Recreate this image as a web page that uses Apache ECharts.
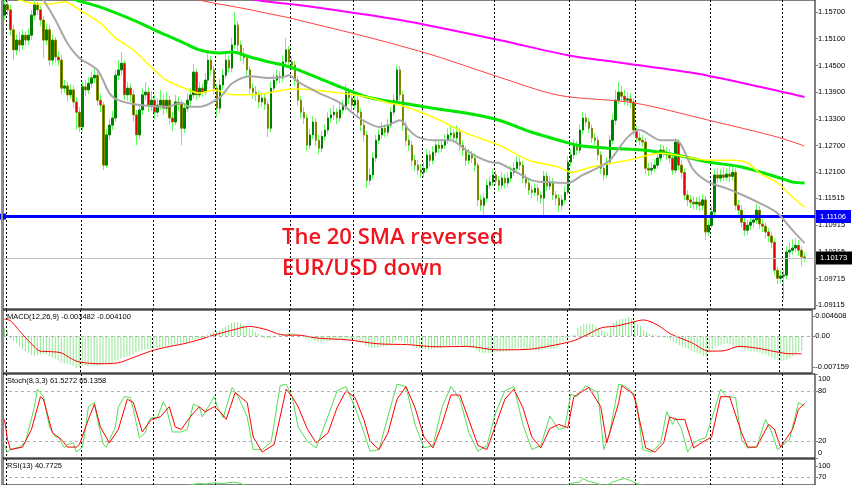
<!DOCTYPE html>
<html><head><meta charset="utf-8">
<script src="https://cdn.jsdelivr.net/npm/echarts@6/dist/echarts.min.js"></script>
<style>html,body{margin:0;padding:0;background:#fff}#c{width:852px;height:485px}</style>
</head><body><div id="c"></div>
<script>
// ---- EUR/USD daily candles ----
const opens = [
1.1563,1.1586,1.1575,1.1530,1.1485,1.1507,1.1496,1.1518,1.1507,1.1518,
1.1563,1.1586,1.1575,1.1552,1.1507,1.1530,1.1462,1.1507,1.1469,1.1462,
1.1399,1.1404,1.1384,1.1395,1.1368,1.1345,1.1312,1.1402,1.1395,1.1410,
1.1422,1.1428,1.1372,1.1361,1.1226,1.1294,1.1316,1.1332,1.1428,1.1440,
1.1455,1.1384,1.1399,1.1384,1.1339,1.1294,1.1350,1.1384,1.1390,1.1361,
1.1372,1.1345,1.1361,1.1372,1.1354,1.1372,1.1332,1.1323,1.1368,1.1363,
1.1309,1.1354,1.1372,1.1384,1.1435,1.1384,1.1399,1.1390,1.1417,1.1462,
1.1440,1.1399,1.1354,1.1406,1.1428,1.1462,1.1444,1.1496,1.1541,1.1496,
1.1473,1.1467,1.1440,1.1399,1.1390,1.1384,1.1368,1.1377,1.1363,1.1309,
1.1399,1.1417,1.1426,1.1422,1.1458,1.1485,1.1458,1.1451,1.1417,1.1372,
1.1345,1.1332,1.1271,1.1294,1.1323,1.1282,1.1264,1.1291,1.1305,1.1332,
1.1339,1.1345,1.1332,1.1350,1.1359,1.1390,1.1377,1.1361,1.1372,1.1345,
1.1316,1.1294,1.1192,1.1204,1.1242,1.1282,1.1294,1.1309,1.1300,1.1316,
1.1345,1.1372,1.1440,1.1384,1.1316,1.1282,1.1271,1.1237,1.1226,1.1215,
1.1210,1.1219,1.1249,1.1237,1.1255,1.1271,1.1264,1.1271,1.1282,1.1294,
1.1298,1.1287,1.1300,1.1271,1.1260,1.1237,1.1249,1.1242,1.1226,1.1148,
1.1136,1.1152,1.1181,1.1188,1.1204,1.1192,1.1181,1.1197,1.1186,1.1197,
1.1210,1.1219,1.1233,1.1226,1.1197,1.1186,1.1170,1.1165,1.1174,1.1159,
1.1152,1.1201,1.1179,1.1188,1.1159,1.1152,1.1136,1.1148,1.1165,1.1233,
1.1249,1.1271,1.1260,1.1305,1.1332,1.1323,1.1309,1.1287,1.1282,1.1249,
1.1219,1.1204,1.1233,1.1282,1.1327,1.1372,1.1390,1.1381,1.1372,1.1375,
1.1368,1.1305,1.1287,1.1282,1.1278,1.1219,1.1215,1.1219,1.1226,1.1242,
1.1260,1.1255,1.1249,1.1242,1.1215,1.1278,1.1226,1.1210,1.1159,1.1148,
1.1143,1.1139,1.1143,1.1136,1.1148,1.1076,1.1091,1.1121,1.1204,1.1197,
1.1204,1.1199,1.1206,1.1201,1.1210,1.1136,1.1125,1.1098,1.1080,1.1091,
1.1098,1.1103,1.1125,1.1094,1.1089,1.1076,1.1067,1.1053,1.0990,1.0972,
1.0977,1.0979,1.1031,1.1035,1.1040,1.1046,1.1035,1.1020];
const closes = [
1.1586,1.1575,1.1530,1.1485,1.1507,1.1496,1.1518,1.1507,1.1518,1.1563,
1.1586,1.1575,1.1552,1.1507,1.1530,1.1462,1.1507,1.1469,1.1462,1.1399,
1.1404,1.1384,1.1395,1.1368,1.1345,1.1312,1.1402,1.1395,1.1410,1.1422,
1.1428,1.1372,1.1361,1.1226,1.1294,1.1316,1.1332,1.1428,1.1440,1.1455,
1.1384,1.1399,1.1384,1.1339,1.1294,1.1350,1.1384,1.1390,1.1361,1.1372,
1.1345,1.1361,1.1372,1.1354,1.1372,1.1332,1.1323,1.1368,1.1363,1.1309,
1.1354,1.1372,1.1384,1.1435,1.1384,1.1399,1.1390,1.1417,1.1462,1.1440,
1.1399,1.1354,1.1406,1.1428,1.1462,1.1444,1.1496,1.1541,1.1496,1.1473,
1.1467,1.1440,1.1399,1.1390,1.1384,1.1368,1.1377,1.1363,1.1309,1.1399,
1.1417,1.1426,1.1422,1.1458,1.1485,1.1458,1.1451,1.1417,1.1372,1.1345,
1.1332,1.1271,1.1294,1.1323,1.1282,1.1264,1.1291,1.1305,1.1332,1.1339,
1.1345,1.1332,1.1350,1.1359,1.1390,1.1377,1.1361,1.1372,1.1345,1.1316,
1.1294,1.1192,1.1204,1.1242,1.1282,1.1294,1.1309,1.1300,1.1316,1.1345,
1.1372,1.1440,1.1384,1.1316,1.1282,1.1271,1.1237,1.1226,1.1215,1.1210,
1.1219,1.1249,1.1237,1.1255,1.1271,1.1264,1.1271,1.1282,1.1294,1.1298,
1.1287,1.1300,1.1271,1.1260,1.1237,1.1249,1.1242,1.1226,1.1148,1.1136,
1.1152,1.1181,1.1188,1.1204,1.1192,1.1181,1.1197,1.1186,1.1197,1.1210,
1.1219,1.1233,1.1226,1.1197,1.1186,1.1170,1.1165,1.1174,1.1159,1.1152,
1.1201,1.1179,1.1188,1.1159,1.1152,1.1136,1.1148,1.1165,1.1233,1.1249,
1.1271,1.1260,1.1305,1.1332,1.1323,1.1309,1.1287,1.1282,1.1249,1.1219,
1.1204,1.1233,1.1282,1.1327,1.1372,1.1390,1.1381,1.1372,1.1375,1.1368,
1.1305,1.1287,1.1282,1.1278,1.1219,1.1215,1.1219,1.1226,1.1242,1.1260,
1.1255,1.1249,1.1242,1.1215,1.1278,1.1226,1.1210,1.1159,1.1148,1.1143,
1.1139,1.1143,1.1136,1.1148,1.1076,1.1091,1.1121,1.1204,1.1197,1.1204,
1.1199,1.1206,1.1201,1.1210,1.1136,1.1125,1.1098,1.1080,1.1091,1.1098,
1.1103,1.1125,1.1094,1.1089,1.1076,1.1067,1.1053,1.0990,1.0972,1.0977,
1.0979,1.1031,1.1035,1.1040,1.1046,1.1035,1.1020,1.10173];
const highs = [
1.1604,1.1598,1.1586,1.1541,1.1520,1.1525,1.1530,1.1527,1.1532,1.1575,
1.1597,1.1593,1.1584,1.1561,1.1545,1.1541,1.1520,1.1514,1.1482,1.1473,
1.1417,1.1413,1.1408,1.1404,1.1379,1.1357,1.1413,1.1417,1.1424,1.1435,
1.1442,1.1437,1.1386,1.1368,1.1307,1.1330,1.1348,1.1440,1.1462,1.1480,
1.1462,1.1413,1.1410,1.1395,1.1350,1.1363,1.1399,1.1413,1.1402,1.1393,
1.1384,1.1377,1.1395,1.1386,1.1390,1.1381,1.1345,1.1384,1.1381,1.1372,
1.1366,1.1388,1.1399,1.1453,1.1442,1.1413,1.1410,1.1433,1.1478,1.1471,
1.1449,1.1408,1.1420,1.1442,1.1480,1.1473,1.1512,1.1570,1.1550,1.1505,
1.1489,1.1476,1.1449,1.1410,1.1404,1.1393,1.1390,1.1386,1.1372,1.1413,
1.1431,1.1440,1.1437,1.1473,1.1512,1.1494,1.1469,1.1460,1.1426,1.1381,
1.1357,1.1341,1.1307,1.1336,1.1332,1.1294,1.1303,1.1318,1.1345,1.1354,
1.1361,1.1354,1.1363,1.1372,1.1406,1.1399,1.1386,1.1386,1.1381,1.1354,
1.1325,1.1303,1.1219,1.1255,1.1294,1.1307,1.1323,1.1318,1.1330,1.1357,
1.1386,1.1451,1.1449,1.1393,1.1325,1.1294,1.1280,1.1249,1.1237,1.1228,
1.1233,1.1262,1.1258,1.1269,1.1285,1.1282,1.1285,1.1296,1.1309,1.1314,
1.1307,1.1316,1.1309,1.1282,1.1269,1.1262,1.1258,1.1253,1.1233,1.1159,
1.1163,1.1195,1.1201,1.1217,1.1213,1.1201,1.1210,1.1206,1.1210,1.1224,
1.1233,1.1246,1.1244,1.1235,1.1206,1.1195,1.1181,1.1186,1.1183,1.1168,
1.1213,1.1210,1.1201,1.1197,1.1168,1.1161,1.1159,1.1179,1.1246,1.1262,
1.1285,1.1280,1.1318,1.1345,1.1343,1.1332,1.1318,1.1298,1.1291,1.1258,
1.1228,1.1244,1.1294,1.1341,1.1395,1.1413,1.1404,1.1395,1.1390,1.1388,
1.1377,1.1314,1.1300,1.1294,1.1287,1.1231,1.1233,1.1240,1.1255,1.1273,
1.1271,1.1267,1.1262,1.1251,1.1287,1.1285,1.1237,1.1219,1.1170,1.1159,
1.1156,1.1154,1.1156,1.1161,1.1156,1.1103,1.1134,1.1217,1.1219,1.1217,
1.1222,1.1219,1.1224,1.1226,1.1219,1.1148,1.1136,1.1109,1.1103,1.1112,
1.1116,1.1139,1.1134,1.1105,1.1098,1.1085,1.1076,1.1062,1.0999,1.0990,
1.0992,1.1044,1.1053,1.1060,1.1062,1.1058,1.1044,1.1031];
const lows = [
1.1552,1.1563,1.1518,1.1462,1.1473,1.1480,1.1485,1.1494,1.1496,1.1507,
1.1552,1.1563,1.1538,1.1467,1.1496,1.1449,1.1451,1.1455,1.1449,1.1386,
1.1388,1.1370,1.1375,1.1354,1.1305,1.1300,1.1303,1.1381,1.1386,1.1399,
1.1410,1.1359,1.1345,1.1215,1.1219,1.1282,1.1305,1.1323,1.1417,1.1428,
1.1372,1.1370,1.1368,1.1323,1.1271,1.1285,1.1339,1.1372,1.1345,1.1348,
1.1330,1.1334,1.1350,1.1339,1.1343,1.1318,1.1303,1.1316,1.1348,1.1271,
1.1298,1.1345,1.1359,1.1377,1.1372,1.1377,1.1379,1.1384,1.1408,1.1428,
1.1386,1.1334,1.1343,1.1395,1.1420,1.1433,1.1435,1.1487,1.1482,1.1460,
1.1453,1.1426,1.1386,1.1375,1.1370,1.1354,1.1357,1.1350,1.1289,1.1300,
1.1390,1.1408,1.1410,1.1413,1.1449,1.1446,1.1440,1.1404,1.1359,1.1332,
1.1318,1.1258,1.1262,1.1285,1.1269,1.1251,1.1255,1.1282,1.1296,1.1321,
1.1327,1.1318,1.1323,1.1341,1.1350,1.1363,1.1350,1.1352,1.1332,1.1303,
1.1278,1.1174,1.1181,1.1195,1.1233,1.1273,1.1285,1.1289,1.1291,1.1309,
1.1336,1.1363,1.1372,1.1303,1.1269,1.1258,1.1224,1.1213,1.1204,1.1197,
1.1199,1.1210,1.1224,1.1228,1.1246,1.1253,1.1255,1.1262,1.1273,1.1282,
1.1276,1.1278,1.1258,1.1246,1.1224,1.1228,1.1231,1.1213,1.1134,1.1123,
1.1112,1.1143,1.1172,1.1179,1.1181,1.1168,1.1172,1.1174,1.1177,1.1188,
1.1201,1.1210,1.1215,1.1186,1.1174,1.1159,1.1152,1.1156,1.1145,1.1139,
1.1112,1.1168,1.1170,1.1148,1.1136,1.1121,1.1125,1.1139,1.1159,1.1224,
1.1240,1.1249,1.1253,1.1296,1.1312,1.1298,1.1276,1.1271,1.1237,1.1206,
1.1192,1.1197,1.1226,1.1273,1.1316,1.1363,1.1368,1.1361,1.1359,1.1354,
1.1294,1.1276,1.1271,1.1267,1.1206,1.1201,1.1204,1.1210,1.1217,1.1233,
1.1244,1.1237,1.1231,1.1204,1.1208,1.1215,1.1197,1.1148,1.1134,1.1130,
1.1127,1.1125,1.1123,1.1125,1.1058,1.1067,1.1085,1.1112,1.1186,1.1188,
1.1190,1.1190,1.1188,1.1192,1.1125,1.1112,1.1085,1.1067,1.1069,1.1080,
1.1085,1.1094,1.1082,1.1076,1.1062,1.1053,1.1040,1.0979,1.0959,1.0961,
1.0923,1.0970,1.1020,1.1024,1.1031,1.1022,1.0999,1.1008];

// ---- moving averages [barIndex, price] ----
const sma20 = [[10,1.1624],[13,1.1597],[17,1.1552],[21,1.1500],[25,1.1467],[31,1.1440],[35,1.1388],[38,1.1372],[45,1.1361],[54,1.1357],[59,1.1366],[62,1.1357],[65,1.1357],[72,1.1379],[76,1.1410],[82,1.1426],[88,1.1422],[93,1.1424],[95,1.1428],[98,1.1413],[105,1.1388],[112,1.1366],[118,1.1334],[125,1.1312],[128,1.1316],[132,1.1327],[135,1.1305],[138,1.1289],[143,1.1282],[149,1.1282],[154,1.1260],[158,1.1244],[162,1.1233],[165,1.1231],[176,1.1192],[181,1.1188],[188,1.1186],[193,1.1204],[198,1.1220],[202,1.1237],[208,1.1289],[212,1.1305],[219,1.1282],[224,1.1282],[230,1.1215],[235,1.1188],[241,1.1174],[245,1.1163],[252,1.1141],[258,1.1118],[263,1.1080],[267,1.1051]];
const sma50 = [[0,1.1608],[5,1.1597],[9,1.1590],[15,1.1588],[20,1.1593],[25,1.1575],[32,1.1545],[37,1.1512],[43,1.1485],[49,1.1446],[54,1.1417],[60,1.1399],[65,1.1388],[70,1.1395],[76,1.1384],[82,1.1384],[88,1.1388],[93,1.1395],[98,1.1397],[112,1.1388],[121,1.1379],[128,1.1366],[132,1.1361],[143,1.1334],[154,1.1298],[165,1.1271],[175,1.1237],[185,1.1222],[189,1.1210],[196,1.1222],[208,1.1237],[219,1.1253],[224,1.1249],[235,1.1237],[243,1.1237],[248,1.1231],[252,1.1208],[258,1.1186],[263,1.1154],[267,1.1132]];
const sma100 = [[15,1.1620],[24,1.1597],[32,1.1581],[43,1.1552],[50,1.1530],[54,1.1518],[60,1.1500],[65,1.1485],[72,1.1478],[76,1.1480],[82,1.1469],[88,1.1458],[93,1.1451],[98,1.1440],[109,1.1410],[121,1.1379],[132,1.1366],[143,1.1354],[154,1.1343],[165,1.1327],[176,1.1300],[185,1.1282],[191,1.1271],[202,1.1264],[213,1.1260],[224,1.1249],[235,1.1233],[246,1.1222],[258,1.1199],[263,1.1188],[267,1.1186]];
const sma200 = [[49,1.1631],[65,1.1597],[79,1.1579],[95,1.1557],[98,1.1552],[121,1.1514],[143,1.1473],[165,1.1424],[185,1.1383],[210,1.1366],[235,1.1327],[258,1.1289],[267,1.1269]];
const smaLong = [[65,1.1631],[84,1.1597],[98,1.1586],[132,1.1552],[165,1.1507],[188,1.1473],[199,1.1462],[230,1.1433],[252,1.1402],[267,1.1379]];

// ---- MACD(12,26,9) ----
const macdHist = [
0.0018,0.0012,-0.0007,-0.0012,-0.0017,-0.0025,-0.0030,-0.0036,-0.0040,-0.0044,
-0.0046,-0.0044,-0.0042,-0.0041,-0.0042,-0.0046,-0.0050,-0.0053,-0.0057,-0.0061,
-0.0063,-0.0065,-0.0067,-0.0069,-0.0075,-0.0072,-0.0069,-0.0068,-0.0069,-0.0068,
-0.0069,-0.0069,-0.0068,-0.0066,-0.0065,-0.0064,-0.0061,-0.0058,-0.0055,-0.0052,
-0.0049,-0.0047,-0.0046,-0.0042,-0.0038,-0.0035,-0.0033,-0.0032,-0.0031,-0.0030,
-0.0029,-0.0029,-0.0028,-0.0026,-0.0023,-0.0022,-0.0021,-0.0020,-0.0019,-0.0018,
-0.0017,-0.0016,-0.0012,-0.0009,-0.0008,-0.0007,-0.0006,-0.0005,0.0003,0.0005,
0.0008,0.0011,0.0013,0.0018,0.0022,0.0026,0.0030,0.0032,0.0032,0.0030,
0.0025,0.0022,0.0018,0.0015,0.0010,0.0005,0.0002,-0.0005,-0.0006,-0.0005,
-0.0004,-0.0002,0.0002,0.0004,0.0006,0.0008,0.0007,0.0006,0.0004,0.0001,
-0.0003,-0.0006,-0.0008,-0.0010,-0.0012,-0.0014,-0.0014,-0.0013,-0.0012,-0.0011,
-0.0010,-0.0009,-0.0008,-0.0007,-0.0006,-0.0006,-0.0007,-0.0008,-0.0010,-0.0013,
-0.0016,-0.0022,-0.0026,-0.0028,-0.0028,-0.0027,-0.0026,-0.0025,-0.0023,-0.0020,
-0.0016,-0.0011,-0.0010,-0.0012,-0.0015,-0.0018,-0.0021,-0.0024,-0.0027,-0.0029,
-0.0030,-0.0030,-0.0031,-0.0030,-0.0029,-0.0028,-0.0027,-0.0026,-0.0024,-0.0023,
-0.0022,-0.0021,-0.0021,-0.0022,-0.0024,-0.0025,-0.0026,-0.0028,-0.0033,-0.0037,
-0.0039,-0.0040,-0.0040,-0.0039,-0.0038,-0.0038,-0.0037,-0.0036,-0.0035,-0.0033,
-0.0031,-0.0029,-0.0028,-0.0029,-0.0030,-0.0031,-0.0032,-0.0032,-0.0033,-0.0034,
-0.0031,-0.0030,-0.0029,-0.0030,-0.0030,-0.0028,-0.0018,-0.0012,-0.0006,0.0000,
0.0002,0.0004,0.0018,0.0023,0.0028,0.0028,0.0028,0.0027,0.0022,0.0018,
0.0014,0.0011,0.0008,0.0020,0.0030,0.0035,0.0039,0.0040,0.0041,0.0044,
0.0040,0.0035,0.0027,0.0023,0.0014,0.0010,0.0005,0.0003,0.0001,-0.0001,
-0.0002,-0.0003,-0.0005,-0.0008,-0.0014,-0.0016,-0.0021,-0.0024,-0.0028,-0.0030,
-0.0034,-0.0037,-0.0040,-0.0041,-0.0046,-0.0048,-0.0038,-0.0032,-0.0025,-0.0023,
-0.0020,-0.0018,-0.0018,-0.0019,-0.0023,-0.0027,-0.0028,-0.0030,-0.0032,-0.0034,
-0.0035,-0.0036,-0.0037,-0.0039,-0.0041,-0.0043,-0.0046,-0.0050,-0.0054,-0.0056,
-0.0058,-0.0057,-0.0055,-0.0051,-0.0046,-0.0041,-0.0037,-0.003482];
const macdSignal = [[0,0.0039],[2,0.0035],[5,0.0012],[9,-0.0018],[12,-0.0035],[15,-0.0036],[19,-0.0039],[22,-0.0051],[25,-0.0060],[32,-0.0064],[38,-0.0062],[43,-0.0050],[49,-0.0035],[54,-0.0026],[60,-0.0018],[65,-0.0009],[70,0.0002],[76,0.0013],[82,0.0022],[88,0.0014],[91,0.0006],[94,0.0002],[98,0.0002],[105,-0.0005],[115,-0.0009],[125,-0.0018],[135,-0.0020],[145,-0.0025],[155,-0.0024],[165,-0.0032],[175,-0.0031],[185,-0.0020],[191,-0.0010],[196,0.0006],[200,0.0019],[205,0.0023],[211,0.0033],[214,0.0037],[219,0.0024],[223,0.0005],[230,-0.0015],[236,-0.0035],[241,-0.0034],[246,-0.0024],[252,-0.0028],[258,-0.0036],[263,-0.0041],[267,-0.0041]];

// ---- Stochastic(8,3,3) ----
const stochMain = [[0,15],[1,7],[2,10],[5,13],[7,19],[10,61],[11,82],[13,73],[15,37],[17,25],[18,25],[20,12],[21,16],[23,18],[24,7],[26,13],[27,34],[28,61],[30,66],[31,46],[33,16],[34,13],[37,37],[38,61],[40,73],[42,72],[43,58],[45,24],[47,30],[48,43],[49,48],[51,48],[53,67],[54,60],[56,31],[59,31],[61,34],[63,64],[65,61],[66,49],[68,61],[70,73],[71,61],[73,48],[74,60],[76,84],[78,73],[81,49],[83,10],[86,10],[89,19],[92,86],[94,88],[96,73],[98,37],[101,20],[104,12],[108,50],[111,80],[114,85],[117,60],[120,30],[122,8],[125,10],[128,50],[131,88],[134,85],[137,40],[140,12],[143,15],[146,60],[149,85],[152,70],[155,30],[158,8],[161,15],[164,55],[167,80],[170,85],[173,40],[176,10],[179,15],[182,50],[185,34],[187,36],[189,76],[191,73],[194,86],[198,78],[200,10],[202,30],[205,88],[207,86],[209,80],[211,66],[213,10],[216,7],[219,18],[221,55],[223,40],[224,48],[226,34],[228,7],[230,18],[232,22],[234,24],[237,58],[239,82],[241,73],[244,72],[246,22],[248,12],[251,13],[254,46],[256,31],[258,10],[262,22],[265,66],[267,61.5272]];
const stochSignal = [[0,46],[1,22],[2,10],[6,13],[9,34],[12,73],[13,70],[16,30],[19,22],[21,13],[24,13],[25,16],[28,46],[30,64],[32,37],[35,18],[38,34],[41,70],[43,66],[46,31],[49,46],[52,49],[55,61],[57,37],[59,34],[62,49],[65,61],[67,55],[70,61],[72,55],[74,46],[77,78],[81,66],[83,25],[86,7],[90,16],[94,82],[96,73],[98,61],[101,35],[104,18],[108,30],[111,60],[114,80],[117,72],[120,45],[122,20],[125,10],[128,30],[131,70],[134,85],[137,60],[140,25],[143,12],[146,40],[149,75],[152,75],[155,45],[158,15],[161,10],[164,40],[167,70],[170,82],[173,60],[176,25],[179,12],[182,35],[185,40],[188,36],[190,73],[195,84],[199,61],[201,18],[205,66],[206,86],[210,76],[214,12],[217,7],[220,18],[222,49],[224,46],[227,46],[230,12],[233,19],[236,25],[239,73],[242,73],[246,30],[248,13],[251,13],[255,40],[257,34],[259,13],[263,34],[265,58],[267,65.1358]];

// ---- RSI(13) ----
const rsi13 = [[0,38],[8,30],[12,40],[20,33],[25,30],[30,40],[33,33],[38,45],[44,40],[50,44],[58,42],[63,50],[65,53],[67,51],[70,54],[73,52],[76,56],[78,54],[81,46],[88,40],[92,46],[94,47],[98,42],[105,38],[112,42],[120,36],[122,30],[131,46],[136,36],[140,32],[150,38],[158,28],[165,33],[172,38],[178,30],[185,34],[188,50],[190,54],[192,56],[193,66],[195,58],[198,52],[200,44],[203,56],[205,62],[207,66],[209,60],[211,52],[214,44],[220,45],[224,47],[228,36],[234,32],[237,44],[243,45],[247,35],[252,37],[258,28],[261,38],[267,40.7725]];

// ---- axes / levels ----
const priceTicks = [1.157,1.151,1.145,1.139,1.133,1.127,1.121,1.11515,1.10915,1.10315,1.09715,1.09115];
const macdTicks = [0.004608, 0, -0.007159];
const stochTicks = [100, 80, 20, 0];
const rsiTicks = [100, 70];
const monthStarts = [1, 26, 50, 71, 96, 117, 140, 164, 189, 211, 236, 260];
const supportLevel = 1.11106;
const lastPrice = 1.10173;
const barSlots = 271;

// ---- build ----
const cats = Array.from({length: barSlots}, (_, i) => String(i));
const candleRows = closes.map((c, i) => [opens[i], c, lows[i], highs[i]]);
const bodyRows = closes.map((c, i) => [opens[i], c, Math.min(opens[i], c), Math.max(opens[i], c)]);

const FONT = 'Liberation Sans';
const gridDefs = [
  {left: 3, right: 37, top: 0, height: 309},
  {left: 3, right: 37, top: 310, height: 63},
  {left: 3, right: 37, top: 374, height: 84},
  {left: 3, right: 37, top: 459, height: 26}
];
function xAx(g) {
  return {type: 'category', gridIndex: g, data: cats, boundaryGap: true,
    axisLine: {show: false}, axisTick: {show: false}, axisLabel: {show: false},
    splitLine: {show: true, interval: (idx) => monthStarts.includes(idx),
      lineStyle: {color: '#000', type: [2, 2], width: 1}}};
}
function yAx(g, min, max, ticks, fmt, rich) {
  return {type: 'value', gridIndex: g, position: 'right', min, max, scale: true,
    axisLine: {show: true, lineStyle: {color: '#808080', width: 1}},
    axisTick: {show: true, length: 3, customValues: ticks, lineStyle: {color: '#808080'}},
    axisLabel: {customValues: ticks, formatter: fmt, fontSize: 7.5, fontFamily: FONT, color: '#000', margin: 3, rich: rich},
    splitLine: {show: false}};
}
const dashed = {color: '#b0b0b0', type: [3, 3], width: 1};
function levels(vals) {
  return {silent: true, precision: 6, symbol: ['none', 'none'], label: {show: false}, lineStyle: dashed,
    data: vals.map(v => ({yAxis: v}))};
}
function maLine(data, color, width, extra) {
  return Object.assign({type: 'line', xAxisIndex: 0, yAxisIndex: 0, data, showSymbol: false, smooth: 0.3,
    silent: true, lineStyle: {color, width}, z: 5}, extra || {});
}
const priceLines = {markLine: {silent: true, precision: 5, symbol: ['none', 'none'], animation: false,
  data: [
    {yAxis: supportLevel, symbol: ['rect', 'none'], symbolSize: 6,
      lineStyle: {color: '#0000ff', width: 3, type: 'solid'},
      label: {show: true, position: 'end', distance: 1, formatter: supportLevel.toFixed(5), color: '#fff',
        backgroundColor: '#0000ff', fontSize: 7.5, fontFamily: FONT, padding: [3, 5, 2, 4]}},
    {yAxis: lastPrice, lineStyle: {color: '#c0c0c0', width: 1, type: 'solid'},
      label: {show: true, position: 'end', distance: 1, formatter: lastPrice.toFixed(5), color: '#fff',
        backgroundColor: '#000', fontSize: 7.5, fontFamily: FONT, padding: [3, 5, 2, 4]}}
  ]}};

const option = {
  animation: false,
  backgroundColor: '#fff',
  grid: gridDefs.map(g => Object.assign({show: true, borderColor: '#000', borderWidth: 1}, g)),
  xAxis: [xAx(0), xAx(1), xAx(2), xAx(3)],
  yAxis: [
    yAx(0, 1.0903, 1.1597, priceTicks, v => v.toFixed(5)),
    yAx(1, -0.00854, 0.00599, macdTicks, v => (v === 0 ? '0.00' : v.toFixed(6))),
    yAx(2, 0, 100, stochTicks, v => (v === 100 ? '{t|100}' : v === 0 ? '{b|0}' : String(v)),
      {t: {padding: [10, 0, 0, 0], fontSize: 7.5, fontFamily: FONT, color: '#000'},
       b: {padding: [0, 0, 10, 0], fontSize: 7.5, fontFamily: FONT, color: '#000'}}),
    yAx(3, 48.2, 119.1, rsiTicks, v => String(v))
  ],
  series: [
    {type: 'candlestick', name: 'wicks', xAxisIndex: 0, yAxisIndex: 0, data: candleRows, barWidth: 1, silent: true,
      itemStyle: {color: '#5cff5c', color0: '#5cff5c', borderColor: '#5cff5c', borderColor0: '#5cff5c', borderWidth: 1}},
    {type: 'candlestick', name: 'bodies', xAxisIndex: 0, yAxisIndex: 0, data: bodyRows, barWidth: 2, silent: true,
      itemStyle: {color: '#008000', color0: '#e00000', borderColor: '#008000', borderColor0: '#7a8a00', borderWidth: 1}},
    maLine(smaLong, '#ff00ff', 2, priceLines),
    maLine(sma200, '#ff4040', 1),
    maLine(sma100, '#00e600', 3),
    maLine(sma50, '#ffff00', 1.5),
    maLine(sma20, '#a8a8a8', 2),
    {type: 'bar', xAxisIndex: 1, yAxisIndex: 1, data: macdHist, barWidth: 1, silent: true,
      itemStyle: {color: '#8ee88e'}, markLine: levels([0])},
    {type: 'line', xAxisIndex: 1, yAxisIndex: 1, data: macdSignal, showSymbol: false, smooth: 0.3, silent: true,
      lineStyle: {color: '#ff0000', width: 1}},
    {type: 'line', xAxisIndex: 2, yAxisIndex: 2, data: stochMain, showSymbol: false, silent: true,
      lineStyle: {color: '#55dd55', width: 1}, markLine: levels([80, 20])},
    {type: 'line', xAxisIndex: 2, yAxisIndex: 2, data: stochSignal, showSymbol: false, silent: true,
      lineStyle: {color: '#ff0000', width: 1}},
    {type: 'line', xAxisIndex: 3, yAxisIndex: 3, data: rsi13, showSymbol: false, silent: true,
      lineStyle: {color: '#55dd55', width: 1}, markLine: levels([70])}
  ],
  graphic: [
    {type: 'rect', shape: {x: 1, y: 0, width: 2, height: 485}, style: {fill: '#909090'}, silent: true, z: 10},
    {type: 'text', left: 7, top: 313, style: {text: 'MACD(12,26,9) -0.003482 -0.004100', font: '7.5px "Liberation Sans"', fill: '#000'}, z: 10},
    {type: 'text', left: 7, top: 377, style: {text: 'Stoch(8,3,3) 61.5272 65.1358', font: '7.5px "Liberation Sans"', fill: '#000'}, z: 10},
    {type: 'text', left: 7, top: 462, style: {text: 'RSI(13) 40.7725', font: '7.5px "Liberation Sans"', fill: '#000'}, z: 10},
    {type: 'text', left: 282, top: 227, style: {text: 'The 20 SMA reversed', font: '600 22px "Open Sans"', fill: '#f0141e'}, z: 10},
    {type: 'text', left: 282, top: 258, style: {text: 'EUR/USD down', font: '600 22px "Open Sans"', fill: '#f0141e'}, z: 10}
  ]
};
const chart = echarts.init(document.getElementById('c'), null, {renderer: 'canvas'});
chart.setOption(option);
</script>
</body></html>
